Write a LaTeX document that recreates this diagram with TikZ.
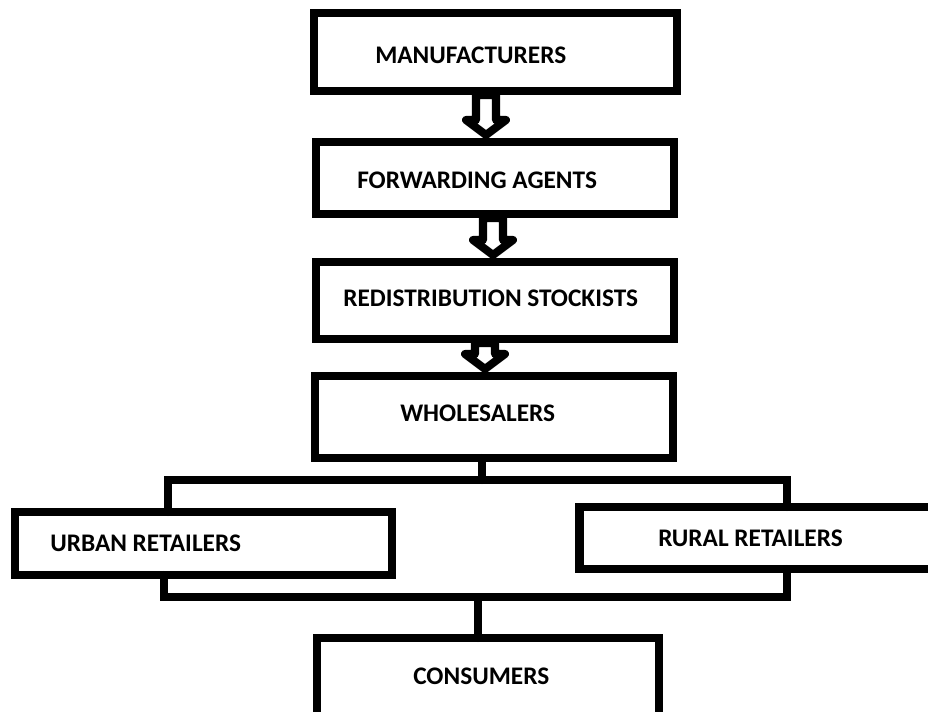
\documentclass[tikz,border=0pt]{standalone}
\usepackage{fontspec}
\setmainfont{Carlito}
\usetikzlibrary{calc}

\begin{document}
\begin{tikzpicture}[x=0.025cm,y=-0.025cm,
  box/.style={draw,line width=5.7pt,inner sep=0,outer sep=0},
  lbl/.style={font=\fontsize{18}{20}\selectfont\bfseries,inner sep=0,anchor=west},
  wire/.style={line width=5.7pt,line cap=round},
  hollow/.style={draw,fill=white,line width=5.7pt,line join=round}]
\def\px{0.025cm} % one pixel of the sketch
\useasboundingbox (0,0) rectangle (928,711);
% ---- chain of boxes ----
\node[box,minimum width=363*\px,minimum height=78*\px] (mfr) at (495.5,52) {};
\node[box,minimum width=358*\px,minimum height=72*\px] (fwd) at (495,178) {};
\node[box,minimum width=358*\px,minimum height=77*\px] (rds) at (495,300.5) {};
\node[box,minimum width=358*\px,minimum height=82*\px] (whl) at (494,417) {};
\node[box,minimum width=377*\px,minimum height=63*\px] (urb) at (203.5,543.5) {};
\node[box,minimum width=361*\px,minimum height=62*\px] (rur) at (760,538) {};
\node[box,minimum width=342*\px,minimum height=80*\px] (con) at (488,678) {};
% ---- texts ----
\node[lbl] (mfr-t) at (375,55) {MANUFACTURERS};
\node[lbl] (fwd-t) at (357,180) {FORWARDING AGENTS};
\node[lbl] (rds-t) at (343,298) {REDISTRIBUTION STOCKISTS};
\node[lbl] (whl-t) at (400,413) {WHOLESALERS};
\node[lbl] (urb-t) at (50,543) {URBAN RETAILERS};
\node[lbl] (rur-t) at (658,538) {RURAL RETAILERS};
\node[lbl] (con-t) at (413,676) {CONSUMERS};
% ---- hollow block arrows ----
\foreach \a/\b/\cx in {mfr/fwd/486, fwd/rds/493, rds/whl/485}{
  \draw[hollow] let \p1=(\a.south), \p2=(\b.north) in
    ({(\cx-10)*\px},{\y1-4*\px}) -- ({(\cx-10)*\px},{\y2+22*\px})
    -- ({(\cx-20)*\px},{\y2+22*\px}) -- ({\cx*\px},{\y2+7*\px})
    -- ({(\cx+20)*\px},{\y2+22*\px}) -- ({(\cx+10)*\px},{\y2+22*\px})
    -- ({(\cx+10)*\px},{\y1-4*\px}) -- cycle;}
% ---- upper bus ----
\coordinate (s1) at (482,480);
\coordinate (b1w) at (168,480);
\coordinate (b1e) at (787,480);
\draw[wire] (whl.south -| s1) -- (s1);
\draw[wire] (b1w |- urb.north) -- (b1w) -- (b1e) -- (b1e |- rur.north);
% ---- lower bus ----
\coordinate (s2) at (478,597);
\coordinate (b2w) at (164,597);
\coordinate (b2e) at (787,597);
\draw[wire] (b2w |- urb.south) -- (b2w) -- (b2e) -- (b2e |- rur.south);
\draw[wire] (s2) -- (s2 |- con.north);
\end{tikzpicture}
\end{document}
